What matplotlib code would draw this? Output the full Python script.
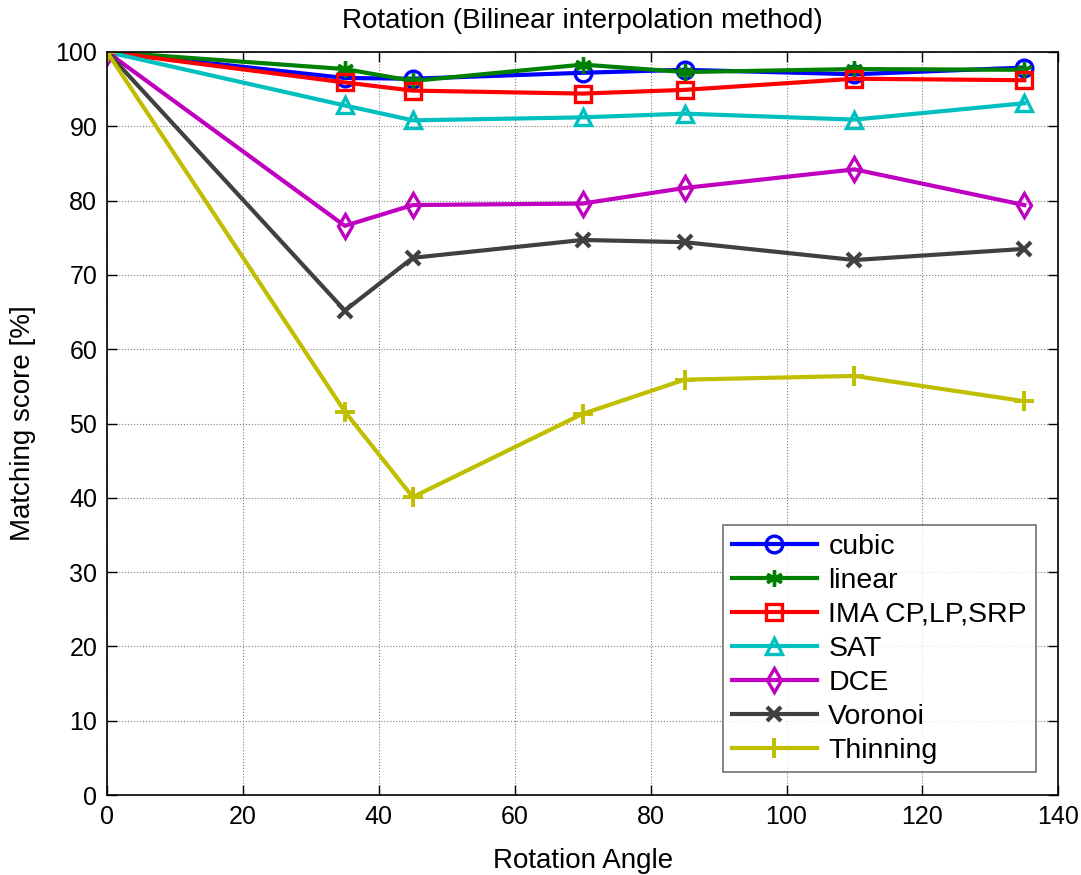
import matplotlib
matplotlib.use("Agg")
import matplotlib.pyplot as plt

plt.rcParams['font.family'] = ['Liberation Sans', 'DejaVu Sans']

angles = [0, 35, 45, 70, 85, 110, 135]
cubic = [100, 96.5, 96.4, 97.2, 97.6, 97.0, 97.9]
linear = [100, 97.7, 96.1, 98.3, 97.3, 97.7, 97.6]
ima = [100, 95.9, 94.8, 94.4, 94.9, 96.4, 96.2]
sat = [100, 92.8, 90.8, 91.2, 91.7, 90.9, 93.1]
dce = [100, 76.6, 79.4, 79.6, 81.7, 84.2, 79.4]
voronoi = [100, 65.2, 72.3, 74.7, 74.4, 72.0, 73.5]
thinning = [100, 51.6, 40.1, 51.3, 55.9, 56.4, 53.0]

series = [
    ("cubic", cubic, (0, 0, 1), 'o', 'none'),
    ("linear", linear, (0, 0.5, 0), (6, 2, 0), None),
    ("IMA CP,LP,SRP", ima, (1, 0, 0), 's', 'none'),
    ("SAT", sat, (0, 0.75, 0.75), '^', 'none'),
    ("DCE", dce, (0.75, 0, 0.75), 'd', 'none'),
    ("Voronoi", voronoi, (0.25, 0.25, 0.25), 'x', None),
    ("Thinning", thinning, (0.75, 0.75, 0), '+', None),
]

fig = plt.figure(figsize=(10.81, 8.75), dpi=100)
ax = fig.add_axes([0.099, 0.0914, 0.880, 0.8492])

for name, vals, col, mk, fc in series:
    kw = dict(color=col, lw=3, marker=mk, markersize=12, markeredgewidth=2.4, label=name)
    if fc == 'none':
        kw['markerfacecolor'] = 'none'
    if mk == 'x':
        kw['markersize'] = 10
        kw['markeredgewidth'] = 3
    if mk == '+':
        kw['markersize'] = 15
        kw['markeredgewidth'] = 2.8
    ax.plot(angles, vals, **kw)

ax.set_xlim(0, 140)
ax.set_ylim(0, 100)
ax.set_xticks(range(0, 141, 20))
ax.set_yticks(range(0, 101, 10))
ax.grid(True, linestyle=':', color='0.5', lw=0.8)
ax.tick_params(direction='in', top=True, right=True, labelsize=18, length=7, width=1, pad=7)
for s in ax.spines.values():
    s.set_linewidth(1.2)
ax.set_xlabel("Rotation Angle", fontsize=20, labelpad=14)
ax.set_ylabel("Matching score [%]", fontsize=20, labelpad=14)
ax.set_title("Rotation (Bilinear interpolation method)", fontsize=20, pad=17)
leg = ax.legend(loc='lower right', fontsize=20.5, frameon=True, fancybox=False,
                edgecolor='0.3', handlelength=3.0, borderaxespad=0.8,
                labelspacing=0.28, handletextpad=0.4, borderpad=0.3)
leg.get_frame().set_linewidth(1.2)

fig.savefig("out.png", dpi=100)
